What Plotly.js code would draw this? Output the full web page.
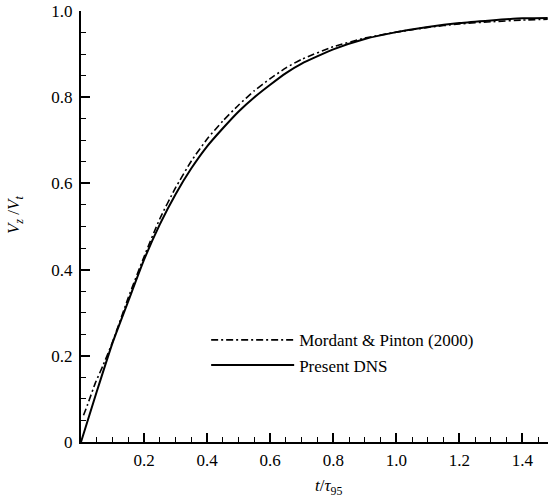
<!DOCTYPE html>
<html>
<head>
<meta charset="utf-8">
<script src="https://cdn.plot.ly/plotly-3.0.1.min.js"></script>
<style>html,body{margin:0;padding:0;background:#fff;}#chart{width:550px;height:497px;}</style>
</head>
<body>
<div id="chart"></div>
<script>
// Present DNS
const dnsT = [0, 0.05, 0.1, 0.15, 0.2, 0.25, 0.3, 0.35, 0.4, 0.45, 0.5, 0.55, 0.6, 0.65, 0.7, 0.8, 0.9, 1.0, 1.1, 1.2, 1.3, 1.4, 1.48];
const dnsV = [0, 0.117, 0.23, 0.327, 0.423, 0.505, 0.575, 0.635, 0.686, 0.728, 0.767, 0.80, 0.829, 0.856, 0.878, 0.911, 0.935, 0.951, 0.963, 0.972, 0.978, 0.983, 0.984];
// Mordant & Pinton (2000)
const mpT = [0.008, 0.02, 0.045, 0.07, 0.1, 0.15, 0.2, 0.25, 0.3, 0.35, 0.4, 0.45, 0.5, 0.55, 0.6, 0.65, 0.7, 0.8, 0.9, 1.0, 1.1, 1.2, 1.3, 1.4, 1.48];
const mpV = [0.062, 0.085, 0.136, 0.178, 0.232, 0.335, 0.43, 0.518, 0.59, 0.652, 0.703, 0.745, 0.782, 0.815, 0.843, 0.868, 0.888, 0.917, 0.937, 0.951, 0.962, 0.970, 0.975, 0.979, 0.981];

const seriesNames = ['Mordant & Pinton (2000)', 'Present DNS'];
const xTickVals = [0.2, 0.4, 0.6, 0.8, 1.0, 1.2, 1.4];
const xTickText = ['0.2', '0.4', '0.6', '0.8', '1.0', '1.2', '1.4'];
const yTickVals = [0, 0.2, 0.4, 0.6, 0.8, 1.0];
const yTickText = ['0', '0.2', '0.4', '0.6', '0.8', '1.0'];

const FONT = 'Liberation Serif';

const traces = [
  {x: mpT, y: mpV, mode: 'lines', name: seriesNames[0],
   line: {color: '#000', width: 1.6, dash: '7px,3px,2px,3px', shape: 'spline', smoothing: 0.5}},
  {x: dnsT, y: dnsV, mode: 'lines', name: seriesNames[1],
   line: {color: '#000', width: 2, shape: 'spline', smoothing: 0.5}}
];

const axisCommon = {
  showline: true, linecolor: '#000', linewidth: 2, mirror: false,
  ticks: 'inside', ticklen: 9, tickwidth: 2, tickcolor: '#000',
  showgrid: false, zeroline: false,
  tickfont: {family: FONT, size: 17, color: '#000'},
  minor: {ticks: 'inside', ticklen: 5, tickwidth: 1, tickcolor: '#000', tick0: 0, dtick: 0.05, showgrid: false}
};

const layout = {
  width: 550, height: 497,
  margin: {l: 81, r: 2, t: 11, b: 55},
  paper_bgcolor: '#fff', plot_bgcolor: '#fff',
  font: {family: FONT, size: 17, color: '#000'},
  xaxis: Object.assign({}, axisCommon, {range: [0, 1.481], tickmode: 'array', tickvals: xTickVals, ticktext: xTickText, ticklabelstandoff: 2}),
  yaxis: Object.assign({}, axisCommon, {range: [0, 1.0], tickmode: 'array', tickvals: yTickVals, ticktext: yTickText, ticklabelstandoff: 3}),
  showlegend: true,
  legend: {x: 0.268, y: 0.207, xanchor: 'left', yanchor: 'middle', bgcolor: 'rgba(0,0,0,0)',
           font: {family: FONT, size: 17, color: '#000'}, itemwidth: 83, tracegroupgap: 0},
  annotations: [
    {text: '<i>t</i>/<i>τ</i><sub>95</sub>', xref: 'paper', yref: 'paper', x: 0.497, y: -0.075,
     xanchor: 'left', yanchor: 'top', showarrow: false, font: {family: FONT, size: 17, color: '#000'}},
    {text: '<i>V<sub>z</sub></i> /<i>V<sub>t</sub></i>', xref: 'paper', yref: 'paper', x: -0.141, y: 0.527,
     xanchor: 'center', yanchor: 'middle', textangle: -90, showarrow: false, font: {family: FONT, size: 17, color: '#000'}}
  ]
};

Plotly.newPlot('chart', traces, layout, {displayModeBar: false, staticPlot: true});
</script>
</body>
</html>
